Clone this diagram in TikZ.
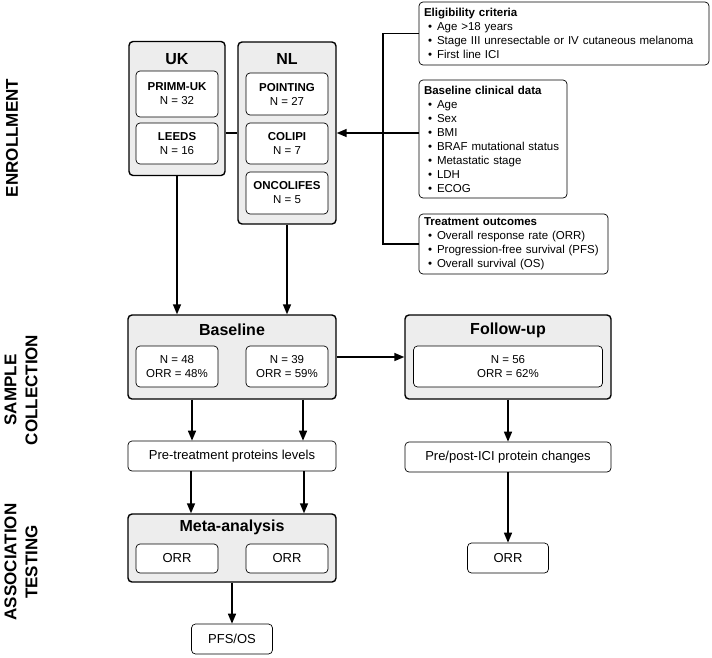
\documentclass[tikz,border=0pt]{standalone}
\usepackage{fontspec}
\setmainfont{Liberation Sans}
\usetikzlibrary{positioning, arrows.meta}

\newcommand{\bulletline}[1]{\hspace*{4pt}\textbullet\hspace{5pt}#1}

\begin{document}
\begin{tikzpicture}[x=1pt,y=-1pt,font=\fontsize{11.5}{14}\selectfont,
  group/.style={draw, line width=1.4pt, fill=black!7, rounded corners=4pt},
  cohort/.style={draw, line width=0.7pt, fill=white, rounded corners=4pt, align=center, inner sep=0pt},
  result/.style={draw, line width=0.7pt, fill=white, rounded corners=4pt, align=center, inner sep=0pt, font=\fontsize{13}{15}\selectfont},
  info/.style={draw, line width=0.7pt, fill=white, rounded corners=4pt, align=left, inner xsep=5pt, inner ysep=0pt},
  title/.style={font=\fontsize{16}{19}\selectfont\bfseries},
  phase/.style={rotate=90, align=center, font=\fontsize{17}{21}\selectfont\bfseries},
  arrow/.style={-{Triangle[length=10pt,width=8pt]}, line width=1.5pt},
  link/.style={line width=1.5pt}]

\useasboundingbox (0,0) rectangle (712,657);

% Phases
\node[phase] (enrollment) at (12,138) {ENROLLMENT};
\node[phase] (sampling) at (21,390) {SAMPLE\\COLLECTION};
\node[phase] (testing) at (21,562) {ASSOCIATION\\TESTING};

% Define cohorts
\node[group, minimum width=96, minimum height=134] (uk) at (177,108.5) {};
\node[group, minimum width=98, minimum height=182] (nl) at (287,133) {};
\node[title] (uk_title) at (177,59) {UK};
\node[title] (nl_title) at (287,59) {NL};
\node[cohort, minimum width=82, minimum height=46] (primm) at (177,94) {\textbf{PRIMM-UK}\\N = 32};
\node[cohort, minimum width=82, minimum height=41] (leeds) at (177,143.5) {\textbf{LEEDS}\\N = 16};
\node[cohort, minimum width=82, minimum height=42] (pointing) at (287,94) {\textbf{POINTING}\\N = 27};
\node[cohort, minimum width=82, minimum height=41] (colipi) at (287,143.5) {\textbf{COLIPI}\\N = 7};
\node[cohort, minimum width=82, minimum height=42] (oncolifes) at (287,193) {\textbf{ONCOLIFES}\\N = 5};

% Study data
\node[info, text width=280, minimum height=63] (eligibility) at (564,33.5) {\textbf{Eligibility criteria}\\
  \bulletline{Age >18 years}\\
  \bulletline{Stage III unresectable or IV cutaneous melanoma}\\
  \bulletline{First line ICI}};
\node[info, text width=138, minimum height=118] (clinical) at (493,139) {\textbf{Baseline clinical data}\\
  \bulletline{Age}\\
  \bulletline{Sex}\\
  \bulletline{BMI}\\
  \bulletline{BRAF mutational status}\\
  \bulletline{Metastatic stage}\\
  \bulletline{LDH}\\
  \bulletline{ECOG}};
\node[info, text width=179, minimum height=60] (outcomes) at (513.5,244) {\textbf{Treatment outcomes}\\
  \bulletline{Overall response rate (ORR)}\\
  \bulletline{Progression-free survival (PFS)}\\
  \bulletline{Overall survival (OS)}};

% Samples
\node[group, minimum width=208, minimum height=84] (baseline) at (232,357) {};
\node[title] (baseline_title) at (232,330) {Baseline};
\node[cohort, minimum width=82, minimum height=41] (baseline_uk) at (177,366.5) {N = 48\\ORR = 48\%};
\node[cohort, minimum width=82, minimum height=41] (baseline_nl) at (287,366.5) {N = 39\\ORR = 59\%};
\node[group, minimum width=206, minimum height=84] (followup) at (508,357) {};
\node[title] (followup_title) at (508,330) {Follow-up};
\node[cohort, minimum width=189, minimum height=41] (followup_all) at (508,366.5) {N = 56\\ORR = 62\%};

% Association testing
\node[result, minimum width=208, minimum height=30] (pretreat) at (232,456) {Pre-treatment proteins levels};
\node[result, minimum width=206, minimum height=30] (prepost) at (508,457) {Pre/post-ICI protein changes};
\node[group, minimum width=208, minimum height=68] (meta) at (232,548) {};
\node[title] (meta_title) at (232,527) {Meta-analysis};
\node[result, minimum width=82, minimum height=29] (meta_uk) at (177,558.5) {ORR};
\node[result, minimum width=82, minimum height=29] (meta_nl) at (287,558.5) {ORR};
\node[result, minimum width=81, minimum height=30] (survival) at (232,639) {PFS/OS};
\node[result, minimum width=81, minimum height=30] (response) at (508,558) {ORR};

% Connectors
\coordinate (bracket) at (383,0);
\draw[link] (uk.east |- nl.center) -- (nl.west);
\draw[link] (eligibility.west) -- (eligibility.west -| bracket) -- (outcomes.west -| bracket) -- (outcomes.west);
\draw[arrow] (clinical.west |- nl.east) -- (nl.east);
\draw[arrow] (uk.south) -- (uk.south |- baseline.north);
\draw[arrow] (nl.south) -- (nl.south |- baseline.north);
\draw[arrow] (baseline.east) -- (followup.west);
\draw[arrow] ([xshift=-40pt]baseline.south) -- ([xshift=-40pt]pretreat.north);
\draw[arrow] ([xshift=71pt]baseline.south) -- ([xshift=71pt]pretreat.north);
\draw[arrow] ([xshift=-41pt]pretreat.south) -- ([xshift=-41pt]meta.north);
\draw[arrow] ([xshift=72pt]pretreat.south) -- ([xshift=72pt]meta.north);
\draw[arrow] (meta.south) -- (survival.north);
\draw[arrow] (followup.south) -- (prepost.north);
\draw[arrow] (prepost.south) -- (response.north);
\end{tikzpicture}
\end{document}
